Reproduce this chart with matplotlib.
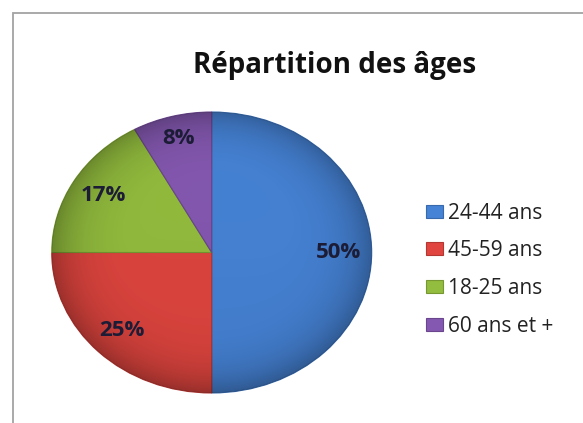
import matplotlib.pyplot as plt
import matplotlib.colors as mcolors
import numpy as np
from matplotlib.patches import Circle, Rectangle


TITLE = 'Répartition des âges'
labels = ['24-44 ans', '45-59 ans', '18-25 ans', '60 ans et +']
shares = [50, 25, 17, 8]
colors = ['#4683d6', '#e0453f', '#93bd3e', '#8458b0']


def darker(c, f=0.78):
    r, g, b = mcolors.to_rgb(c)
    return (r * f, g * f, b * f)


def main():
    plt.rcParams['font.family'] = ['Open Sans', 'DejaVu Sans']
    fig = plt.figure(figsize=(5.83, 4.23), dpi=100)

    # chart frame (only left/top edges visible in the crop)
    fig.patches.append(Rectangle((13 / 583, -0.1), 1.2, (423 - 13) / 423 + 0.1,
                                 transform=fig.transFigure, fill=False,
                                 ec='#a3a3a3', lw=1.3))

    ax = fig.add_axes([51.7 / 583, 30 / 423, 320 / 583, 281 / 423])
    wedges, texts, autotexts = ax.pie(
        shares, colors=colors, startangle=90, counterclock=False,
        autopct='%.0f%%', pctdistance=0.79, radius=1,
        textprops=dict(fontsize=16, fontweight='bold', color='#1c1c36'))
    for w, c in zip(wedges, colors):
        w.set_edgecolor(darker(c, 0.8))
        w.set_linewidth(0.8)
    # small slice label sits a bit further out
    t = autotexts[3]
    x, y = t.get_position()
    t.set_position((x * 0.84 / 0.79, y * 0.84 / 0.79))

    ax.set_aspect('auto')
    ax.set_xlim(-1, 1)
    ax.set_ylim(-1, 1)

    # soft shading like the office style: lighter top, darker rim
    xx, yy = np.meshgrid(np.linspace(-1, 1, 300), np.linspace(-1, 1, 300))
    rr = np.sqrt(xx ** 2 + yy ** 2)
    shade = np.zeros((300, 300, 4))
    shade[..., 3] = 0.26 * np.clip(rr, 0, 1) ** 6 + 0.06 * (1 - yy) / 2
    im = ax.imshow(shade, extent=(-1, 1, -1, 1), origin='lower',
                   aspect='auto', zorder=3)
    im.set_clip_path(Circle((0, 0), 1, transform=ax.transData))
    for t in autotexts:
        t.set_zorder(5)

    fig.text(335 / 583, (423 - 73) / 423, TITLE, ha='center', va='baseline',
             fontsize=20, fontweight='bold', color='#111111')

    fig.legend(wedges, labels, loc='center left',
               bbox_to_anchor=(407 / 583, (423 - 269.5) / 423),
               frameon=False, fontsize=15, handlelength=0.85,
               handleheight=0.6, handletextpad=0.2, labelspacing=0.8,
               labelcolor='#222222')

    fig.savefig('out.png', dpi=100)


if __name__ == '__main__':
    main()
